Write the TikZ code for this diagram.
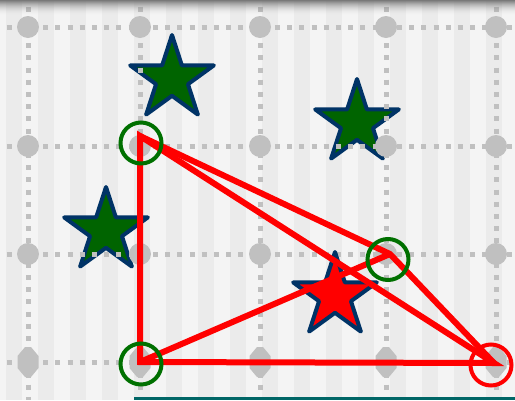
\documentclass[tikz,border=0pt]{standalone}
\definecolor{stripeA}{HTML}{F4F4F4}
\definecolor{stripeB}{HTML}{EBEBEB}
\definecolor{gridgray}{HTML}{C0C0C0}
\definecolor{stargreen}{HTML}{006400}
\definecolor{starnavy}{HTML}{003366}
\definecolor{ringgreen}{HTML}{007000}
\definecolor{tealbar}{HTML}{006666}
\begin{document}
\begin{tikzpicture}[x=1pt,y=-1pt,
  gridline/.style={draw=gridgray, line width=5pt, dash pattern=on 5pt off 7.2pt},
  griddot/.style={fill=gridgray},
  starshape/.style={draw=starnavy, line width=4pt, line join=round},
  edge/.style={draw=red, line width=6pt},
  ring/.style={circle, line width=4pt, minimum size=41pt, inner sep=0pt},
  mystar/.pic={\path[pic actions] (0,-44) -- (9.875,-13.59) -- (41.85,-13.6) -- (15.98,5.19) -- (25.86,35.6) -- (0,16.8) -- (-25.86,35.6) -- (-15.98,5.19) -- (-41.85,-13.6) -- (-9.875,-13.59) -- cycle;}]
\useasboundingbox (0,0) rectangle (515,400);
% background stripes
\fill[stripeA] (0,0) rectangle (515,400);
\foreach \k in {0,...,15} \fill[stripeB] ({6+32*\k},0) rectangle ({22+32*\k},400);
% green stars (under the grid)
\pic[starshape, fill=stargreen] (s1) at (172,79) {mystar};
\pic[starshape, fill=stargreen] (s2) at (357,123) {mystar};
\pic[starshape, fill=stargreen] (s3) at (106,231) {mystar};
% grid
\foreach \y in {27,146,254,362} \draw[gridline] (6.5,\y) -- (515,\y);
\foreach \x in {28,140,260,386,496} \draw[gridline] (\x,6.5) -- (\x,400);
\foreach \x in {28,140,260,386,496} {
  \foreach \y in {27,146,254} \fill[griddot] (\x,\y) circle (11);
  \fill[griddot] (\x,362) ++(-3,-15) -- ++(6,0) -- ++(7.5,9) -- ++(0,12) -- ++(-7.5,9) -- ++(-6,0) -- ++(-7.5,-9) -- ++(0,-12) -- cycle;
}
% red star
\pic[starshape, fill=red] (s4) at (335,296) {mystar};
% red graph
\coordinate (P1) at (140,136);
\coordinate (P2) at (140,362);
\coordinate (P3) at (494,363);
\coordinate (P4) at (390,254);
\draw[edge] (P1) -- (P2) -- (P3) -- cycle;
\draw[edge] (P1) -- (P4) -- (P3);
\draw[edge] (P2) -- (P4);
% rings
\node[ring, draw=ringgreen] (c1) at (141,143) {};
\node[ring, draw=ringgreen] (c2) at (141,364) {};
\node[ring, draw=ringgreen] (c3) at (388,259.5) {};
\node[ring, draw=red] (c4) at (491,365) {};
% top shadow
\foreach \i [evaluate=\i as \op using {0.95*(1-\i/15)^2}] in {0,...,14}
  \fill[black!55, opacity=\op] (0,\i) rectangle (515,\i+1);
% bottom teal bar
\fill[tealbar] (134,397.3) rectangle (515,400);
\end{tikzpicture}
\end{document}
